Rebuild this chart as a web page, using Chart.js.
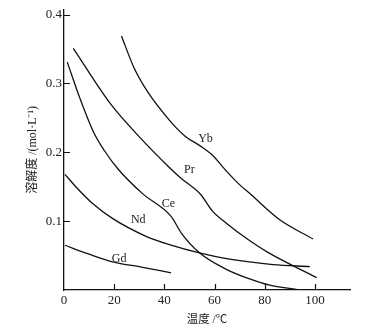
<!DOCTYPE html>
<html>
<head>
<meta charset="utf-8">
<script src="https://cdn.jsdelivr.net/npm/chart.js@4/dist/chart.umd.min.js"></script>
<style>
  html, body { margin: 0; padding: 0; background: #fff; }
  #box { width: 387px; height: 328px; }
</style>
</head>
<body>
<div id="box"><canvas id="chart"></canvas></div>
<script>
// curve data: [temperature, solubility]
var yb = [[22.9,0.369],[28,0.322],[33.3,0.288],[42.4,0.245],[48.4,0.223],[54.4,0.209],[59.7,0.194],[63.7,0.177],[69.1,0.156],[74.4,0.139],[86,0.102],[99.3,0.074]];
var pr = [[3.7,0.351],[18.4,0.271],[30.4,0.221],[42,0.178],[46.4,0.163],[54.4,0.139],[59.1,0.115],[65.1,0.096],[73.1,0.074],[81.1,0.055],[100.7,0.018]];
var ce = [[1.3,0.331],[6.4,0.278],[11.7,0.230],[16,0.203],[21.7,0.175],[31.3,0.140],[42.7,0.107],[46.7,0.083],[54,0.054],[64.7,0.030],[74,0.016],[82,0.007],[92.7,0.001]];
var nd = [[0.4,0.168],[4.7,0.150],[11.3,0.126],[19.3,0.104],[32.7,0.078],[42,0.066],[54,0.054],[67.3,0.044],[83.3,0.037],[98,0.034]];
var gd = [[0.4,0.065],[10,0.052],[19.3,0.041],[31.3,0.033],[42.7,0.025]];

var names = ['Yb', 'Pr', 'Ce', 'Nd', 'Gd'];
var series = [yb, pr, ce, nd, gd];
// where each name sits, in data units
var labelPos = [[56.4,0.220],[50,0.174],[41.6,0.125],[29.6,0.102],[22,0.045]];

var xTicks = [0, 20, 40, 60, 80, 100];
var yTicks = [0.1, 0.2, 0.3, 0.4];

var serif = '"Liberation Serif", "Noto Sans CJK SC", serif';

var datasets = [];
for (var i in series) {
    datasets.push({
        label: names[i],
        data: series[i].map(function(p){ return {x: p[0], y: p[1]}; }),
        borderColor: '#111',
        borderWidth: 1.3,
        pointRadius: 0,
        fill: false,
        cubicInterpolationMode: 'monotone'
    });
}

// inner ticks and curve names
var extras = {
    id: 'extras',
    afterDraw: function(chart) {
        var ctx = chart.ctx;
        var xs = chart.scales.x, ys = chart.scales.y;
        var a = chart.chartArea;
        ctx.save();
        ctx.strokeStyle = '#111';
        ctx.lineWidth = 1.2;
        ctx.beginPath();
        xTicks.forEach(function(v){
            if (v === 0) return;
            var px = Math.round(xs.getPixelForValue(v)) + 0.5;
            ctx.moveTo(px, a.bottom);
            ctx.lineTo(px, a.bottom - 6);
        });
        yTicks.forEach(function(v){
            var py = Math.round(ys.getPixelForValue(v)) + 0.5;
            ctx.moveTo(a.left, py);
            ctx.lineTo(a.left + 6, py);
        });
        ctx.stroke();

        ctx.fillStyle = '#222';
        ctx.font = '12px ' + serif;
        ctx.textAlign = 'center';
        ctx.textBaseline = 'middle';
        for (var k in names) {
            ctx.fillText(names[k], xs.getPixelForValue(labelPos[k][0]), ys.getPixelForValue(labelPos[k][1]));
        }
        ctx.restore();
    }
};

var chart = new Chart(document.getElementById('chart'), {
    type: 'line',
    data: { datasets: datasets },
    options: {
        responsive: true,
        maintainAspectRatio: false,
        animation: false,
        layout: { padding: { top: 9, right: 37, left: 0, bottom: 0 } },
        plugins: { legend: { display: false }, tooltip: { enabled: false } },
        scales: {
            x: {
                type: 'linear',
                min: 0,
                max: 114,
                afterFit: function(s){ s.height = 38; },
                afterBuildTicks: function(s){ s.ticks = xTicks.map(function(v){ return {value: v}; }); },
                grid: { display: false, drawTicks: false },
                border: { color: '#111', width: 1.3 },
                ticks: {
                    padding: 3,
                    color: '#222',
                    font: { family: serif, size: 13 },
                    maxRotation: 0,
                    callback: function(v){ return v; }
                },
                title: {
                    display: true,
                    text: '温度 /℃',
                    color: '#222',
                    font: { family: serif, size: 11.5 },
                    padding: { top: 0, bottom: 1 }
                }
            },
            y: {
                type: 'linear',
                min: 0,
                max: 0.407,
                afterFit: function(s){ s.width = 64; },
                afterBuildTicks: function(s){ s.ticks = yTicks.map(function(v){ return {value: v}; }); },
                grid: { display: false, drawTicks: false },
                border: { color: '#111', width: 1.3 },
                ticks: {
                    padding: 2,
                    color: '#222',
                    font: { family: serif, size: 13 },
                    callback: function(v){ return v.toFixed(1); }
                },
                title: {
                    display: true,
                    text: '溶解度 /(mol·L⁻¹)',
                    color: '#222',
                    font: { family: serif, size: 12 },
                    padding: { top: 26, bottom: 0 }
                }
            }
        }
    },
    plugins: [extras]
});
</script>
</body>
</html>
